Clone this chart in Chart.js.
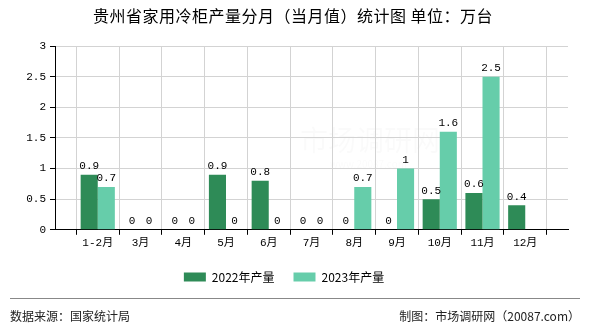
<!DOCTYPE html>
<html>
<head>
<meta charset="utf-8">
<script src="https://cdn.jsdelivr.net/npm/chart.js@4/dist/chart.umd.min.js"></script>
<style>
  html, body { margin: 0; padding: 0; background: #fff; }
  #wrap { width: 590px; height: 330px; }
</style>
</head>
<body>
<div id="wrap"><canvas id="c" width="590" height="330"></canvas></div>
<script>
var titleText = '贵州省家用冷柜产量分月（当月值）统计图 单位：万台';
var months = ['1-2月', '3月', '4月', '5月', '6月', '7月', '8月', '9月', '10月', '11月', '12月'];
var prod2022 = [0.9, 0, 0, 0.9, 0.8, 0, 0, 0, 0.5, 0.6, 0.4];
var prod2023 = [0.7, 0, 0, 0, 0, 0, 0.7, 1, 1.6, 2.5, null];
var yTicks = [0, 0.5, 1, 1.5, 2, 2.5, 3];

var CJK = '"Noto Sans CJK SC", sans-serif';
var MONO = '"Liberation Mono", "Noto Sans CJK SC", monospace';

// empty slot on each side so months sit on the grid lines
function pad(arr) { return [null].concat(arr, [null]); }

var valueLabels = {
    id: 'valueLabels',
    afterDatasetsDraw: function (chart) {
        var ctx = chart.ctx;
        ctx.save();
        ctx.font = '11px ' + MONO;
        ctx.fillStyle = '#000';
        ctx.textAlign = 'center';
        ctx.textBaseline = 'bottom';
        chart.data.datasets.forEach(function (ds, di) {
            chart.getDatasetMeta(di).data.forEach(function (bar, i) {
                var v = ds.data[i];
                if (v === null || v === undefined) return;
                ctx.fillText(String(v), bar.x, bar.y - 3);
            });
        });
        ctx.restore();
    }
};

// title, faint watermark and the source line under the legend
var decor = {
    id: 'decor',
    beforeDraw: function (chart) {
        var ctx = chart.ctx;
        ctx.save();
        ctx.font = '28px ' + CJK;
        ctx.fillStyle = 'rgba(0,0,0,0.02)';
        ctx.textAlign = 'left';
        ctx.textBaseline = 'middle';
        ctx.fillText('市场调研网', 300, 140);
        ctx.font = '10px ' + CJK;
        ctx.fillText('www.20087.com', 330, 164);
        ctx.restore();
    },
    afterDraw: function (chart) {
        var ctx = chart.ctx;
        ctx.save();
        ctx.font = '16px ' + CJK;
        ctx.fillStyle = '#000';
        ctx.textAlign = 'center';
        ctx.textBaseline = 'middle';
        ctx.letterSpacing = '0.5px';
        ctx.fillText(titleText, 293, 16);
        ctx.letterSpacing = '0px';

        ctx.strokeStyle = '#888';
        ctx.lineWidth = 1;
        ctx.beginPath();
        ctx.moveTo(10, 298.5);
        ctx.lineTo(580, 298.5);
        ctx.stroke();
        ctx.font = '12px ' + CJK;
        ctx.fillStyle = '#222';
        ctx.textAlign = 'left';
        ctx.fillText('数据来源：国家统计局', 10, 316);
        ctx.textAlign = 'right';
        ctx.fillText('制图：市场调研网（20087.com）', 580, 316);
        ctx.restore();
    }
};

new Chart(document.getElementById('c'), {
    type: 'bar',
    data: {
        labels: pad(months).map(function (m) { return m || ''; }),
        datasets: [
            { label: '2022年产量', data: pad(prod2022), backgroundColor: '#2E8B57' },
            { label: '2023年产量', data: pad(prod2023), backgroundColor: '#66CDAA' }
        ]
    },
    options: {
        responsive: false,
        animation: false,
        layout: { padding: { left: 0, right: 22, top: 46, bottom: 37 } },
        datasets: { bar: { barPercentage: 1.0, categoryPercentage: 0.8 } },
        plugins: {
            legend: {
                position: 'bottom',
                labels: {
                    boxWidth: 22,
                    boxHeight: 9,
                    color: '#000',
                    font: { family: CJK, size: 12 },
                    padding: 19
                }
            },
            tooltip: { enabled: false }
        },
        scales: {
            x: {
                offset: false,
                grid: { color: '#d3d3d3', tickColor: '#000', tickLength: 5 },
                border: { color: '#000' },
                ticks: { color: '#000', font: { family: MONO, size: 11 }, maxRotation: 0, autoSkip: false, padding: 2 }
            },
            y: {
                min: 0,
                max: 3,
                afterFit: function (s) { s.width = 55; },
                afterBuildTicks: function (s) { s.ticks = yTicks.map(function (v) { return { value: v }; }); },
                grid: { color: '#d3d3d3', tickColor: '#000', tickLength: 5 },
                border: { color: '#000' },
                ticks: {
                    color: '#000',
                    font: { family: MONO, size: 11 },
                    padding: 4,
                    callback: function (v) { return String(v); }
                }
            }
        }
    },
    plugins: [valueLabels, decor]
});
</script>
</body>
</html>
